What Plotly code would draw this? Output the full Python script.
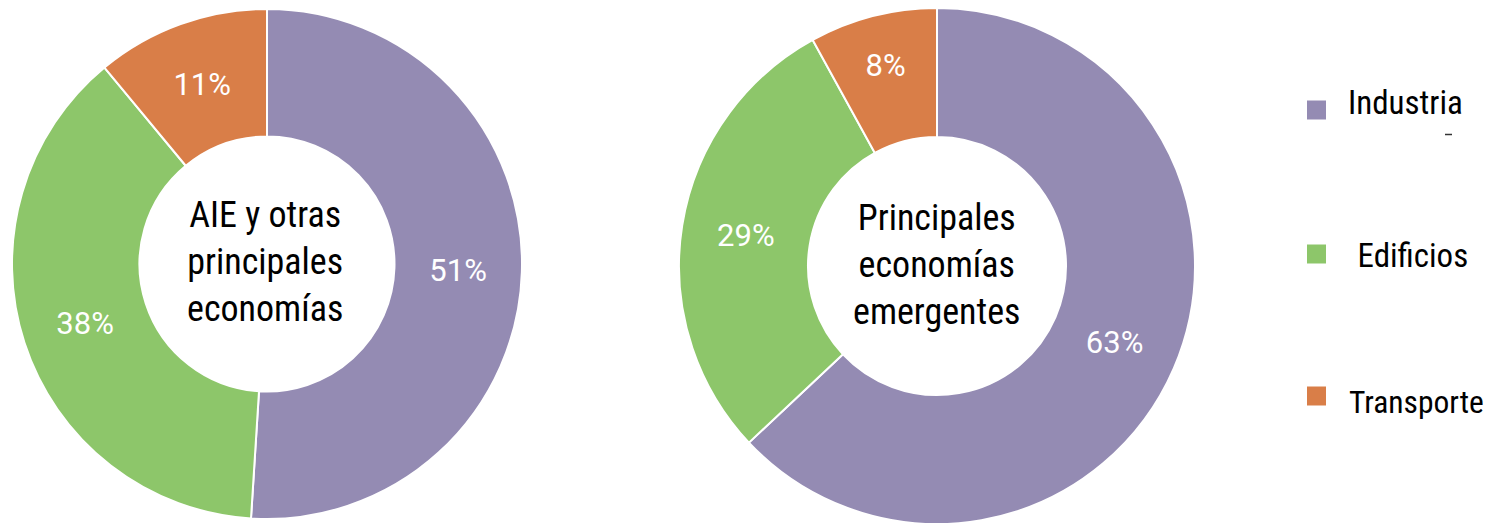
import plotly.graph_objects as go

categories = ["Industria", "Edificios", "Transporte"]
legend_labels = ["Industria", " Edificios", "Transporte"]
aie_values = [51, 38, 11]
emerging_values = [63, 29, 8]
center_titles = ["AIE y otras<br>principales<br>economías", "Principales<br>economías<br>emergentes"]
colors = ["#948BB3", "#8DC66A", "#D97E48"]

W, H = 1497, 523
OFF = 8  # page body margin
FONT = "Liberation Sans Narrow, Arial Narrow, Roboto Condensed, sans-serif"
PCT_FONT = "Roboto, sans-serif"

def px(x):
    return (x - OFF) / W

def py(y):
    return 1 - (y - OFF) / H

def dom(cx, cy, r):
    return dict(x=[px(cx - r), px(cx + r)], y=[max(0, py(cy + r)), min(1, py(cy - r))])

fig = go.Figure()
for vals, d in [(aie_values, dom(267, 264, 255)), (emerging_values, dom(937, 266, 258))]:
    fig.add_trace(go.Pie(
        labels=categories, values=vals, sort=False, direction="clockwise", rotation=0,
        hole=0.5, domain=d,
        marker=dict(colors=colors, line=dict(color="white", width=2)),
        texttemplate="%{value}%", textposition="inside", insidetextorientation="horizontal",
        textfont=dict(color="white", size=31, family=PCT_FONT),
        showlegend=False, hoverinfo="label+value",
    ))

annotations = []
shapes = []
for title, cx, cy in zip(center_titles, [265, 937], [262, 265]):
    annotations.append(dict(text=title, x=px(cx), y=py(cy), xref="paper", yref="paper",
                            showarrow=False, font=dict(size=36, family=FONT, color="black"),
                            xanchor="center", yanchor="middle"))

leg_y = [110, 254, 396]
text_y = [103, 255, 402]
text_x = [1346, 1348, 1347]
text_size = [33, 33, 31.5]
for lab, col, sy, ty, tx, ts in zip(legend_labels, colors, leg_y, text_y, text_x, text_size):
    shapes.append(dict(type="rect", xref="paper", yref="paper",
                       x0=px(1307), x1=px(1326), y0=py(sy + 9.5), y1=py(sy - 9.5),
                       fillcolor=col, line=dict(width=0)))
    annotations.append(dict(text=lab.replace(" ", "&nbsp;"), x=px(tx), y=py(ty), xref="paper", yref="paper",
                            showarrow=False, font=dict(size=ts, family=FONT, color="black"),
                            xanchor="left", yanchor="middle"))

# small stray dash below the first legend entry
shapes.append(dict(type="line", xref="paper", yref="paper",
                   x0=px(1445), x1=px(1452), y0=py(134.5), y1=py(134.5),
                   line=dict(color="#333333", width=1.5)))

fig.update_layout(
    width=W, height=H, margin=dict(l=0, r=0, t=0, b=0),
    paper_bgcolor="white", plot_bgcolor="white",
    annotations=annotations, shapes=shapes,
)
fig.write_html("out.html")
